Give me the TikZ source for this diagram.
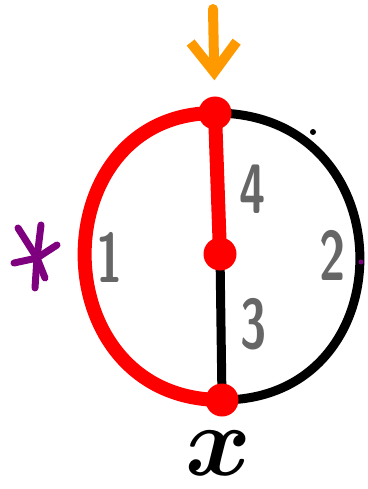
\documentclass[tikz,border=0pt]{standalone}
\usepackage{bm}
\usetikzlibrary{arrows.meta}
\definecolor{myorange}{HTML}{FF9900}
\definecolor{mypurple}{HTML}{7F007F}
\definecolor{mygray}{HTML}{666666}
\tikzset{
	junction/.style={
			circle,
			fill=red,
			minimum size=33pt,
			inner sep=0pt
		},
	redpath/.style={
			draw=red,
			line width=14pt,
			line cap=round
		},
	blackpath/.style={
			draw=black,
			line width=9pt,
			line cap=round
		},
	edgelabel/.style={
			text=mygray,
			font=\sffamily\bfseries\fontsize{70}{70}\selectfont,
			inner sep=0pt
		}
}
\newcommand{\narrow}[1]{\scalebox{0.68}[1]{#1}}
\begin{document}
\begin{tikzpicture}[x=1pt, y=-1pt]
\useasboundingbox (0,0) rectangle (367,489);

% black side first, red on top
\coordinate (t) at (215,113);
\coordinate (m) at (220,254);
\coordinate (b) at (222,400);
\draw[blackpath] (t) .. controls (407,113) and (407,400) .. (b);
\draw[blackpath] (m) -- (b);
\draw[redpath] (t) .. controls (40,113) and (40,400) .. (b);
\draw[redpath] (t) -- (m);

\node[junction] (n1) at (t) {};
\node[junction] (n2) at (m) {};
\node[junction] (n3) at (b) {};

% entry arrow
\coordinate (start) at (213,9);
\draw[myorange, line width=10pt, line cap=round, -{Straight Barb[length=30pt, width=46pt, line width=10pt]}, shorten >=16pt] (start) -- (n1);

% star
\coordinate (s) at (37,258);
\foreach \p in {(18,228),(41,225),(57,245),(14,263),(35,288),(45,278)}
  \draw[mypurple, line width=7pt, line cap=round] (s) -- \p;

% stray marks
\fill[black] (313,132) circle (3pt);
\fill[mypurple] (361,262) circle (2.5pt);

\node[edgelabel] (l1) at (110,257) {\narrow{1}};
\node[edgelabel] (l4) at (253,189) {\narrow{4}};
\node[edgelabel] (l2) at (333,255) {\narrow{2}};
\node[edgelabel] (l3) at (254,324) {\narrow{3}};
\node[scale=10, inner sep=0pt] (lx) at (218,453) {$\bm{x}$};
\end{tikzpicture}
\end{document}
